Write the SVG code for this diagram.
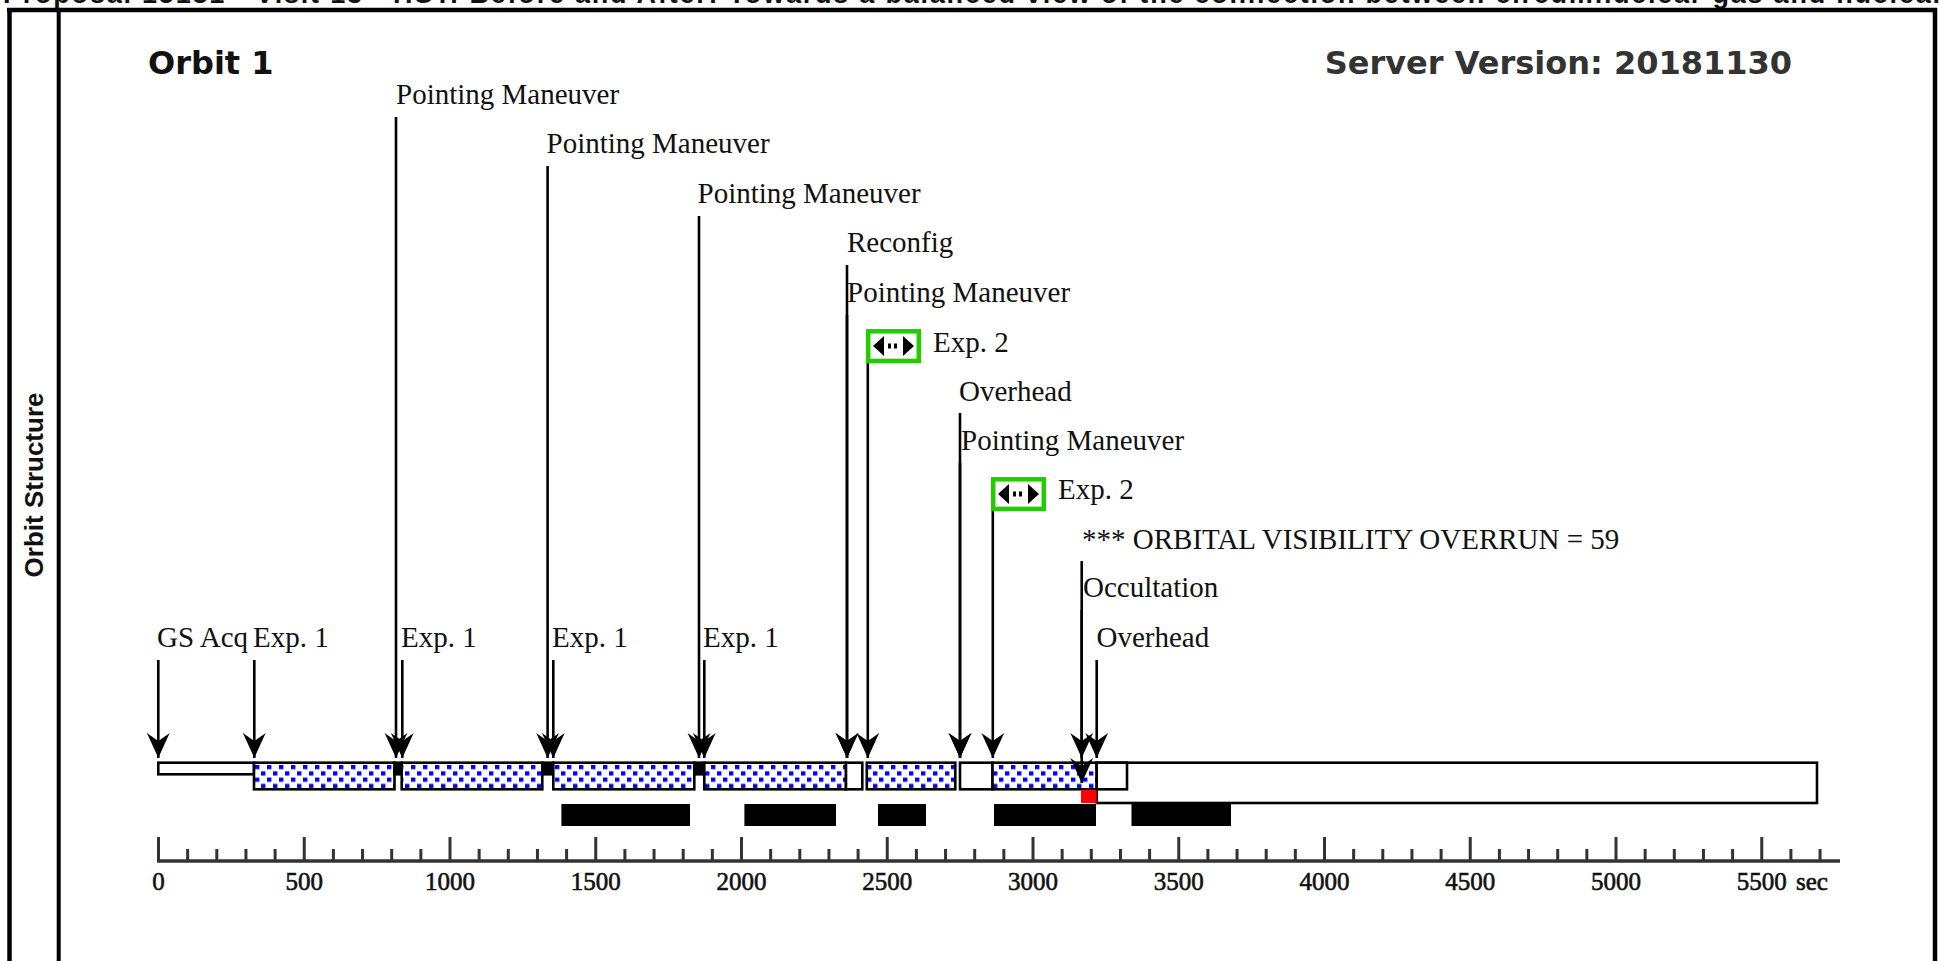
<svg xmlns="http://www.w3.org/2000/svg" width="1939" height="961" viewBox="0 0 1939 961">
<style>
.lbl{font-family:"Liberation Serif","Times New Roman",serif;font-size:29px;fill:#111}
.ax{font-family:"Liberation Serif","Times New Roman",serif;font-size:25px;fill:#111;stroke:#111;stroke-width:0.6;text-anchor:middle}
.ttl{font-family:"DejaVu Sans",Verdana,sans-serif;font-size:32px;font-weight:bold}
.ln{stroke:#000;stroke-width:2.6;fill:none;marker-end:url(#arr)}
.seg{stroke:#000;stroke-width:2.6;fill:#fff}
.pm{stroke:#000;stroke-width:2.6;fill:#000}
.dot{stroke:#000;stroke-width:2.6;fill:url(#dots)}
.bar{fill:#000}
.gb{fill:#fff;stroke:#22cc00;stroke-width:4.5}
.fr{stroke:#000;stroke-width:4.5;fill:none}
.tick{stroke:#333;stroke-width:3;fill:none}
</style>
<defs>
<marker id="arr" markerUnits="userSpaceOnUse" viewBox="0 0 25 24" markerWidth="25" markerHeight="24" refX="25" refY="12" orient="auto">
<path d="M0,0.5 L3,2 L25,12 L3,22 L0,23.5 L8,12 Z" fill="#000"/>
</marker>
<pattern id="dots" patternUnits="userSpaceOnUse" x="254" y="764" width="12" height="12.6">
<rect width="12" height="12.6" fill="#fff"/>
<rect x="1" y="1" width="4.4" height="4.2" fill="#0000ff"/>
<rect x="7" y="7.3" width="4.4" height="4.2" fill="#0000ff"/>
</pattern>
<g id="dbl">
<path d="M7,17 L18,7 L18,27 Z" fill="#000"/>
<rect x="22" y="14.5" width="3" height="5" fill="#000"/>
<rect x="28" y="14.5" width="3" height="5" fill="#000"/>
<path d="M48,17 L37,7 L37,27 Z" fill="#000"/>
</g>
<clipPath id="plotclip"><rect x="0" y="0" width="1840" height="961"/></clipPath>
</defs>

<rect width="1939" height="961" fill="#fff"/>

<g id="header">
<text x="3" y="3" font-family="'Liberation Sans',Arial,sans-serif" font-size="27" font-weight="bold" fill="#111" textLength="1940" lengthAdjust="spacing">Proposal 15181 - Visit 13 - HST: Before and After: Towards a balanced view of the connection between circumnuclear gas and nuclear</text>
</g>

<g id="frame">
<line class="fr" x1="7" y1="10" x2="1937" y2="10"/>
<line class="fr" x1="9.5" y1="8" x2="9.5" y2="961"/>
<line x1="58.7" y1="8" x2="58.7" y2="961" stroke="#000" stroke-width="4"/>
<line class="fr" x1="1935" y1="8" x2="1935" y2="961"/>
</g>

<g id="side-label">
<text transform="translate(43,485) rotate(-90)" text-anchor="middle" font-family="'Liberation Sans',Arial,sans-serif" font-size="26" font-weight="bold" fill="#111">Orbit Structure</text>
</g>

<g id="titles">
<text class="ttl" x="148" y="74" fill="#111">Orbit 1</text>
<text class="ttl" x="1792" y="74" fill="#333" text-anchor="end">Server Version: 20181130</text>
</g>

<g id="timeline-segments">
<rect id="seg-bigbox" class="seg" x="1096.7" y="762.7" width="720.3" height="40.3"/>
<rect id="seg-gsacq" class="seg" x="158.3" y="762.7" width="95.7" height="11.6"/>
<rect id="seg-exp1a" class="dot" x="254" y="762.7" width="140.5" height="26.6"/>
<rect id="seg-pm1" class="pm" x="394.5" y="762.7" width="7.2" height="11.6"/>
<rect id="seg-exp1b" class="dot" x="401.7" y="762.7" width="140.6" height="26.6"/>
<rect id="seg-pm2" class="pm" x="542.3" y="762.7" width="11" height="11.6"/>
<rect id="seg-exp1c" class="dot" x="553.3" y="762.7" width="141" height="26.6"/>
<rect id="seg-pm3" class="pm" x="694.3" y="762.7" width="10" height="11.6"/>
<rect id="seg-exp1d" class="dot" x="704.3" y="762.7" width="141.7" height="26.6"/>
<rect id="seg-reconfig" class="seg" x="846" y="762.7" width="16.3" height="26.6"/>
<rect id="seg-exp2a" class="dot" x="866.8" y="762.7" width="88.5" height="26.6"/>
<rect id="seg-overhead" class="seg" x="960" y="762.7" width="32.5" height="26.6"/>
<rect id="seg-exp2b" class="dot" x="992.5" y="762.7" width="104.2" height="26.6"/>
<rect id="seg-overhead2" class="seg" x="1096.7" y="762.7" width="30.3" height="26.6"/>
<rect id="seg-overrun" x="1081" y="790.2" width="15.7" height="12.8" fill="#ff0000"/>
</g>

<g id="visibility-bars">
<rect class="bar" x="561.4" y="804" width="128.6" height="22"/>
<rect class="bar" x="744.4" y="804" width="91.6" height="22"/>
<rect class="bar" x="878" y="804" width="48" height="22"/>
<rect class="bar" x="994" y="804" width="102" height="22"/>
<rect class="bar" x="1131.5" y="804" width="99.5" height="22"/>
</g>

<g id="connectors">
<line class="ln" x1="158.3" y1="660" x2="158.3" y2="758"/>
<line class="ln" x1="254.3" y1="660" x2="254.3" y2="758"/>
<line class="ln" x1="396" y1="117" x2="396" y2="758"/>
<line class="ln" x1="402.3" y1="660" x2="402.3" y2="758"/>
<line class="ln" x1="547.6" y1="166" x2="547.6" y2="758"/>
<line class="ln" x1="553.3" y1="660" x2="553.3" y2="758"/>
<line class="ln" x1="699" y1="216" x2="699" y2="758"/>
<line class="ln" x1="704.3" y1="660" x2="704.3" y2="758"/>
<line class="ln" x1="847" y1="265" x2="847" y2="758"/>
<line class="ln" x1="847" y1="315" x2="847" y2="758"/>
<line class="ln" x1="867.8" y1="363" x2="867.8" y2="758"/>
<line class="ln" x1="960" y1="413" x2="960" y2="758"/>
<line class="ln" x1="960" y1="463" x2="960" y2="758"/>
<line class="ln" x1="992.8" y1="511" x2="992.8" y2="758"/>
<line class="ln" x1="1081.7" y1="561" x2="1081.7" y2="783"/>
<line class="ln" x1="1081.7" y1="610" x2="1081.7" y2="758"/>
<line class="ln" x1="1096.7" y1="660" x2="1096.7" y2="758"/>
</g>

<g id="ev-gsacq"><text class="lbl" x="157" y="647">GS Acq</text></g>
<g id="ev-exp1a"><text class="lbl" x="253" y="647">Exp. 1</text></g>
<g id="ev-pm1"><text class="lbl" x="396" y="104">Pointing Maneuver</text></g>
<g id="ev-exp1b"><text class="lbl" x="401" y="647">Exp. 1</text></g>
<g id="ev-pm2"><text class="lbl" x="546.5" y="153">Pointing Maneuver</text></g>
<g id="ev-exp1c"><text class="lbl" x="552" y="647">Exp. 1</text></g>
<g id="ev-pm3"><text class="lbl" x="697.5" y="203">Pointing Maneuver</text></g>
<g id="ev-exp1d"><text class="lbl" x="703" y="647">Exp. 1</text></g>
<g id="ev-reconfig"><text class="lbl" x="847" y="252">Reconfig</text></g>
<g id="ev-pm4"><text class="lbl" x="847" y="302">Pointing Maneuver</text></g>
<g id="ev-exp2a">
<rect class="gb" x="868.2" y="331.3" width="50.6" height="29.6"/>
<use href="#dbl" transform="translate(866,329)"/>
<text class="lbl" x="933" y="352">Exp. 2</text>
</g>
<g id="ev-overhead"><text class="lbl" x="959" y="401">Overhead</text></g>
<g id="ev-pm5"><text class="lbl" x="961" y="450">Pointing Maneuver</text></g>
<g id="ev-exp2b">
<rect class="gb" x="993.2" y="479.3" width="50.6" height="29.6"/>
<use href="#dbl" transform="translate(991,477)"/>
<text class="lbl" x="1058" y="499">Exp. 2</text>
</g>
<g id="ev-overrun"><text class="lbl" x="1082" y="549">*** ORBITAL VISIBILITY OVERRUN = 59</text></g>
<g id="ev-occultation"><text class="lbl" x="1083" y="597">Occultation</text></g>
<g id="ev-overhead2"><text class="lbl" x="1096.5" y="647">Overhead</text></g>

<g id="axis" clip-path="url(#plotclip)">
<line x1="157" y1="861" x2="1840" y2="861" stroke="#333" stroke-width="3.3"/>
<path class="tick" d="M158.5,837V861M304.25,837V861M450,837V861M595.75,837V861M741.5,837V861M887.25,837V861M1033,837V861M1178.75,837V861M1324.5,837V861M1470.25,837V861M1616,837V861M1761.75,837V861"/>
<path class="tick" d="M187.65,849V861M216.8,849V861M245.95,849V861M275.1,849V861M333.4,849V861M362.55,849V861M391.7,849V861M420.85,849V861M479.15,849V861M508.3,849V861M537.45,849V861M566.6,849V861M624.9,849V861M654.05,849V861M683.2,849V861M712.35,849V861M770.65,849V861M799.8,849V861M828.95,849V861M858.1,849V861M916.4,849V861M945.55,849V861M974.7,849V861M1003.85,849V861M1062.15,849V861M1091.3,849V861M1120.45,849V861M1149.6,849V861M1207.9,849V861M1237.05,849V861M1266.2,849V861M1295.35,849V861M1353.65,849V861M1382.8,849V861M1411.95,849V861M1441.1,849V861M1499.4,849V861M1528.55,849V861M1557.7,849V861M1586.85,849V861M1645.15,849V861M1674.3,849V861M1703.45,849V861M1732.6,849V861M1790.9,849V861M1820.05,849V861"/>
<text class="ax" x="158.5" y="890">0</text>
<text class="ax" x="304.25" y="890">500</text>
<text class="ax" x="450" y="890">1000</text>
<text class="ax" x="595.75" y="890">1500</text>
<text class="ax" x="741.5" y="890">2000</text>
<text class="ax" x="887.25" y="890">2500</text>
<text class="ax" x="1033" y="890">3000</text>
<text class="ax" x="1178.75" y="890">3500</text>
<text class="ax" x="1324.5" y="890">4000</text>
<text class="ax" x="1470.25" y="890">4500</text>
<text class="ax" x="1616" y="890">5000</text>
<text class="ax" x="1761.75" y="890">5500</text>
<text class="ax" x="1812" y="890" text-anchor="start" font-size="26">sec</text>
</g>
</svg>
